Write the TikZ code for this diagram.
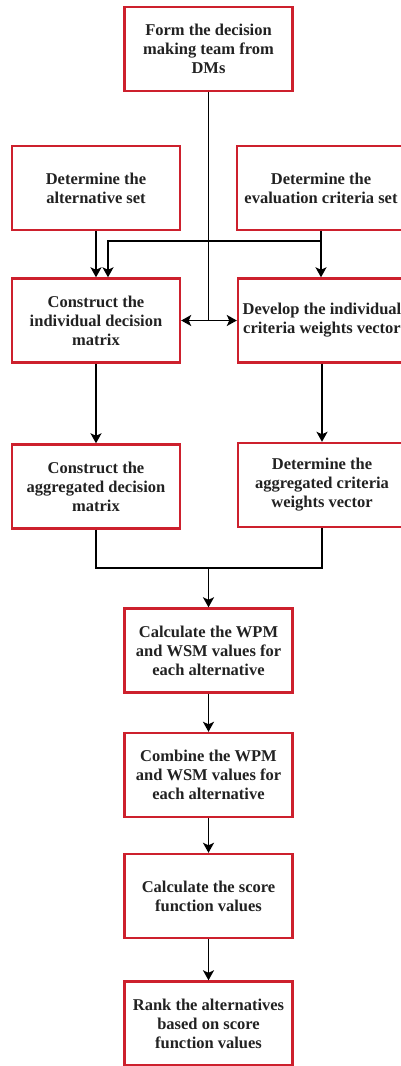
\documentclass[tikz,border=0pt]{standalone}
\usepackage{fontspec}
\setmainfont{Liberation Serif}
\usetikzlibrary{arrows.meta,calc}
\definecolor{boxred}{RGB}{205,32,45}
\definecolor{txt}{RGB}{34,34,34}
\begin{document}
\begin{tikzpicture}[x=1pt,y=-1pt,
  box/.style={draw=boxred,line width=2.4pt,fill=white,rectangle,inner sep=0pt,
    minimum width=168pt,minimum height=84pt,align=center,text=txt,
    font=\fontsize{16.5}{19}\selectfont\bfseries},
  conn/.style={draw=black,line width=1.8pt},
  arr/.style={conn,-{Stealth[length=10pt,width=11pt,inset=2.5pt]}}]
\useasboundingbox (0,0) rectangle (401,1066);
\clip (0,0) rectangle (401,1066);
\fill[white] (0,0) rectangle (401,1066);
\node[box] (top)   at (208.5,49)   {Form the decision\\making team from\\DMs};
\node[box] (alt)   at (96,188)     {Determine the\\alternative set};
\node[box] (eval)  at (321,188)    {Determine the\\evaluation criteria set};
\node[box] (cind)  at (96,320.5)   {Construct the\\individual decision\\matrix};
\node[box] (dev)   at (322,320.5)  {Develop the individual\\criteria weights vector};
\node[box] (cagg)  at (96,486.5)   {Construct the\\aggregated decision\\matrix};
\node[box] (dagg)  at (322,485)    {Determine the\\aggregated criteria\\weights vector};
\node[box] (calc)  at (208.5,650.5){Calculate the WPM\\and WSM values for\\each alternative};
\node[box] (comb)  at (208.5,775)  {Combine the WPM\\and WSM values for\\each alternative};
\node[box] (score) at (208.5,896)  {Calculate the score\\function values};
\node[box] (rank)  at (208.5,1023.5){Rank the alternatives\\based on score\\function values};
% connectors
\coordinate (j1) at (top.south |- cind.east);
\draw[conn] (top.south) -- (j1);
\draw[arr] (j1) -- (cind.east);
\draw[arr] (j1) -- (dev.west);
\draw[arr] (alt.south) -- (cind.north);
\coordinate (e1) at ($(eval.south)+(0,10)$);
\coordinate (c2) at ([xshift=12pt]cind.north);
\draw[arr] (eval.south) -- (e1) -| (c2);
\draw[arr] (e1) -- (eval.south |- dev.north);
\draw[arr] (cind.south) -- (cagg.north);
\draw[arr] (dev.south) -- (dagg.north);
\coordinate (m) at (208.5,568);
\draw[conn] (cagg.south) |- (m) -| (dagg.south);
\draw[arr] (m) -- (calc.north);
\draw[arr] (calc.south) -- (comb.north);
\draw[arr] (comb.south) -- (score.north);
\draw[arr] (score.south) -- (rank.north);
\end{tikzpicture}
\end{document}
